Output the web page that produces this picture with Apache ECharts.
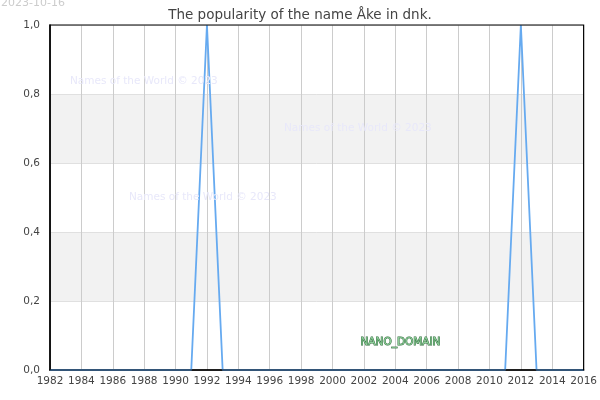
<!DOCTYPE html>
<html lang="en">
<head>
    <meta charset="UTF-8">
    <title>Åke in dnk</title>
    <style>
        html, body { margin: 0; padding: 0; background: #fff; }
        #chart { width: 600px; height: 400px; }
    </style>
</head>
<body>
<div id="chart"></div>
<script src="https://cdn.jsdelivr.net/npm/echarts@6/dist/echarts.min.js"></script>
<script>
    // data
    var years = [1982, 1983, 1984, 1985, 1986, 1987, 1988, 1989, 1990, 1991,
        1992, 1993, 1994, 1995, 1996, 1997, 1998, 1999, 2000, 2001,
        2002, 2003, 2004, 2005, 2006, 2007, 2008, 2009, 2010, 2011,
        2012, 2013, 2014, 2015, 2016];
    var popularity = [0, 0, 0, 0, 0, 0, 0, 0, 0, 0,
        1, 0, 0, 0, 0, 0, 0, 0, 0, 0,
        0, 0, 0, 0, 0, 0, 0, 0, 0, 0,
        1, 0, 0, 0, 0];
    var titleText = 'The popularity of the name Åke in dnk.';
    var dateText = '2023-10-16';
    var watermark = 'Names of the World © 2023';

    var points = [];
    for (var i = 0; i < years.length; i++) {
        points.push([years[i], popularity[i]]);
    }

    var myChart = echarts.init(document.getElementById('chart'));
    var font = 'DejaVu Sans';

    var option = {
        animation: false,
        textStyle: { fontFamily: font },
        title: {
            text: titleText,
            left: 'center',
            top: 3,
            textStyle: { fontFamily: font, fontSize: 13.5, fontWeight: 'normal', color: '#444' }
        },
        grid: {
            left: 50, right: 15, top: 25, bottom: 30,
            show: true, borderColor: '#000', borderWidth: 1.2, backgroundColor: 'transparent', z: 5
        },
        xAxis: {
            type: 'value',
            min: 1982, max: 2016, interval: 2,
            axisLine: { lineStyle: { color: '#000', width: 1.5 } },
            axisTick: { show: false },
            axisLabel: { color: '#444', fontSize: 10.5, fontFamily: font, margin: 6,
                formatter: function (v) { return String(v); } },
            splitLine: { show: true, lineStyle: { color: '#ccc', width: 1 } }
        },
        yAxis: {
            type: 'value',
            min: 0, max: 1, interval: 0.2,
            axisLine: { show: true, lineStyle: { color: '#000', width: 1.5 } },
            axisTick: { show: false },
            axisLabel: { color: '#444', fontSize: 10.5, fontFamily: font, margin: 10,
                formatter: function (v) { return v.toFixed(1).replace('.', ','); } },
            splitLine: { show: true, lineStyle: { color: '#e0e0e0', width: 1 } },
            splitArea: { show: true, areaStyle: { color: ['#ffffff', '#f2f2f2'] } }
        },
        graphic: [
            { type: 'text', z: 100, left: 1, top: -2, style: { text: dateText, fill: '#ccc', font: '11px ' + font } },
            { type: 'text', z: 100, left: 70, top: 76, style: { text: watermark, fill: '#e8e8fa', font: '10.5px ' + font } },
            { type: 'text', z: 100, left: 284, top: 123, style: { text: watermark, fill: '#e8e8fa', font: '10.5px ' + font } },
            { type: 'text', z: 100, left: 129, top: 192, style: { text: watermark, fill: '#e8e8fa', font: '10.5px ' + font } },
            { type: 'text', z: 100, left: 360, top: 336, style: { text: 'NANO_DOMAIN', fill: '#8fd09a', stroke: '#2f6a3c', lineWidth: 1, font: '10.5px ' + font } }
        ],
        series: [
            {
                type: 'line',
                data: points,
                showSymbol: false,
                z: 3,
                lineStyle: { color: '#66aaf0', width: 1.8 },
                itemStyle: { color: '#66aaf0' }
            }
        ]
    };

    myChart.setOption(option);
</script>
</body>
</html>
